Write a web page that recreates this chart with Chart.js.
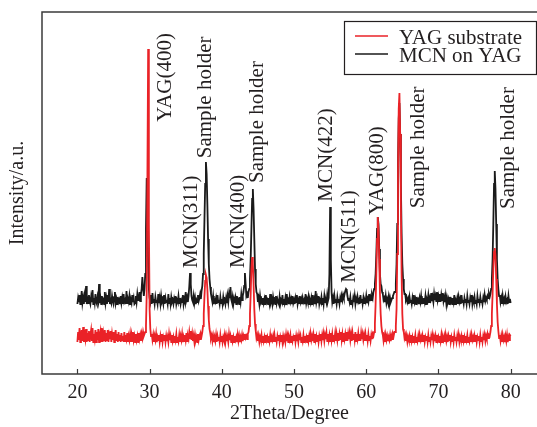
<!DOCTYPE html>
<html>
<head>
<meta charset="utf-8">
<script src="https://cdn.jsdelivr.net/npm/chart.js@4.4.1/dist/chart.umd.min.js"></script>
<style>
  html, body { margin: 0; padding: 0; background: #fff; overflow: hidden; }
  canvas { display: block; }
</style>
</head>
<body>
<canvas id="xrdChart" width="537" height="427"></canvas>
<script>
// XRD patterns, scan 20..80 deg, step 0.1 deg

const scanStart = 20;
const scanStep = 0.1;

const seriesNames = ['YAG substrate', 'MCN on YAG'];

// intensity (a.u.), one row = 2 deg
const yagSubstrate = [
    320, 420, 340, 460, 320, 380, 440, 330, 470, 320, 400, 350, 450, 320, 410, 340, 430, 320, 390, 440,
    330, 460, 320, 400, 350, 440, 320, 420, 340, 450, 320, 390, 430, 330, 460, 320, 400, 340, 440, 320,
    410, 330, 440, 320, 390, 350, 430, 320, 400, 340, 420, 320, 380, 440, 330, 400, 320, 420, 340, 390,
    320, 410, 340, 380, 320, 420, 330, 390, 350, 410, 320, 380, 340, 400, 320, 390, 330, 420, 340, 380,
    320, 400, 340, 380, 320, 410, 350, 390, 330, 400, 360, 420, 380, 400, 420, 480, 800, 2000, 3250, 1500,
    650, 450, 380, 400, 340, 390, 320, 380, 340, 400, 320, 370, 340, 390, 320, 380, 330, 400, 320, 370,
    340, 390, 320, 380, 330, 370, 320, 400, 340, 380, 320, 390, 330, 370, 320, 380, 340, 400, 320, 370,
    330, 390, 320, 380, 340, 400, 320, 370, 330, 390, 340, 410, 330, 380, 350, 420, 360, 430, 340, 400,
    330, 380, 320, 390, 340, 370, 320, 400, 340, 380, 350, 400, 380, 420, 480, 600, 780, 930, 990, 960,
    850, 680, 540, 450, 410, 360, 390, 330, 380, 320, 370, 330, 390, 320, 380, 340, 370, 320, 390, 330,
    380, 320, 370, 340, 390, 320, 380, 330, 370, 320, 400, 340, 380, 320, 390, 330, 370, 320, 380, 340,
    370, 320, 390, 330, 380, 320, 370, 340, 390, 330, 380, 350, 400, 360, 380, 350, 400, 420, 480, 600,
    800, 1050, 1170, 1100, 900, 650, 500, 430, 360, 390, 330, 380, 320, 370, 340, 390, 320, 380, 330, 370,
    320, 390, 340, 370, 320, 380, 330, 390, 320, 370, 340, 380, 320, 390, 330, 370, 320, 380, 340, 390,
    320, 370, 330, 390, 320, 380, 340, 370, 320, 390, 330, 380, 320, 370, 340, 390, 320, 380, 330, 370,
    340, 390, 320, 380, 330, 370, 320, 390, 340, 380, 320, 370, 330, 390, 320, 380, 340, 370, 320, 390,
    330, 380, 320, 400, 340, 380, 330, 390, 320, 400, 340, 380, 330, 390, 320, 380, 340, 400, 330, 390,
    340, 400, 330, 390, 350, 410, 330, 400, 340, 390, 330, 410, 340, 400, 330, 390, 350, 410, 330, 400,
    340, 410, 330, 400, 350, 420, 340, 400, 330, 410, 350, 400, 340, 420, 330, 400, 350, 410, 340, 400,
    330, 410, 350, 400, 340, 420, 330, 400, 350, 410, 340, 400, 330, 410, 350, 400, 340, 390, 330, 400,
    340, 390, 330, 400, 340, 380, 330, 390, 350, 400, 380, 420, 500, 700, 1000, 1350, 1570, 1450, 1150, 800,
    600, 480, 420, 390, 330, 380, 320, 390, 340, 380, 330, 370, 340, 390, 330, 380, 350, 400, 380, 420,
    420, 480, 650, 1200, 2000, 2650, 2810, 2400, 1700, 1000, 600, 450, 420, 360, 390, 330, 380, 320, 370, 340,
    380, 320, 390, 330, 370, 320, 380, 340, 390, 320, 370, 330, 380, 320, 390, 340, 370, 320, 380, 330,
    390, 320, 370, 340, 380, 320, 390, 330, 370, 320, 380, 340, 390, 320, 370, 330, 380, 320, 390, 340,
    370, 320, 380, 330, 390, 320, 370, 340, 380, 320, 390, 330, 370, 320, 380, 340, 390, 320, 370, 330,
    380, 320, 390, 340, 370, 320, 380, 330, 390, 320, 370, 340, 380, 320, 390, 330, 370, 320, 380, 340,
    390, 320, 370, 330, 380, 320, 390, 340, 370, 320, 380, 330, 390, 320, 370, 340, 380, 320, 390, 330,
    370, 320, 380, 340, 390, 330, 380, 350, 400, 360, 390, 380, 420, 480, 600, 800, 1050, 1220, 1260, 1180,
    950, 700, 520, 430, 360, 390, 330, 380, 320, 390, 340, 370, 320, 380, 330, 390, 320, 370, 340, 390,
    380
];

const mcnOnYag = [
    700, 760, 720, 790, 700, 740, 830, 710, 760, 700, 780, 720, 880, 700, 750, 710, 790, 730, 700, 770,
    720, 840, 700, 760, 710, 800, 720, 700, 770, 730, 900, 710, 760, 700, 780, 720, 740, 700, 820, 710,
    760, 700, 790, 720, 850, 700, 740, 710, 780, 730, 700, 760, 820, 710, 750, 700, 770, 720, 740, 700,
    780, 710, 760, 700, 800, 720, 740, 700, 830, 710, 750, 720, 780, 700, 740, 710, 790, 720, 760, 700,
    710, 780, 720, 800, 740, 760, 820, 730, 800, 850, 970, 860, 780, 850, 1000, 1450, 1960, 1600, 1100, 850,
    760, 720, 790, 700, 810, 720, 750, 700, 770, 720, 740, 700, 800, 710, 760, 700, 780, 720, 740, 700,
    790, 700, 760, 720, 740, 700, 800, 710, 760, 700, 770, 720, 740, 700, 750, 710, 780, 700, 740, 720,
    780, 710, 760, 700, 740, 720, 790, 700, 750, 720, 820, 740, 770, 720, 780, 880, 1010, 900, 780, 740,
    720, 780, 710, 760, 700, 740, 720, 790, 730, 760, 800, 750, 830, 880, 1000, 1200, 1550, 1900, 2120, 2000,
    1700, 1350, 1100, 950, 870, 800, 760, 720, 780, 700, 740, 720, 760, 700, 790, 720, 740, 700, 770, 710,
    750, 700, 770, 720, 740, 700, 760, 710, 780, 720, 800, 760, 870, 750, 720, 770, 700, 750, 710, 760,
    700, 780, 720, 740, 700, 770, 720, 800, 740, 780, 820, 880, 1010, 900, 780, 800, 760, 820, 850, 950,
    1150, 1450, 1750, 1850, 1650, 1350, 1050, 900, 820, 800, 720, 760, 700, 780, 720, 740, 700, 760, 710, 750,
    700, 790, 720, 740, 700, 760, 710, 800, 720, 750, 700, 770, 720, 740, 700, 780, 710, 750, 720, 700,
    770, 700, 740, 720, 790, 700, 750, 710, 760, 700, 800, 720, 740, 700, 770, 720, 750, 700, 780, 710,
    740, 700, 760, 720, 790, 700, 740, 710, 780, 720, 750, 700, 760, 720, 740, 700, 800, 710, 750, 720,
    770, 700, 740, 710, 760, 700, 790, 720, 750, 700, 830, 720, 760, 710, 780, 700, 740, 720, 770, 700,
    760, 700, 780, 720, 740, 710, 790, 730, 760, 1000, 1670, 1150, 820, 720, 760, 700, 780, 720, 750, 700,
    770, 720, 750, 700, 760, 720, 780, 740, 790, 760, 800, 830, 850, 840, 780, 740, 760, 720, 770, 700,
    740, 700, 760, 720, 780, 700, 750, 710, 770, 720, 740, 700, 790, 720, 750, 700, 760, 710, 740, 720,
    780, 710, 750, 720, 800, 730, 770, 740, 790, 760, 820, 850, 900, 1000, 1200, 1450, 1570, 1500, 1250, 1000,
    900, 880, 820, 800, 740, 760, 720, 780, 710, 750, 720, 770, 700, 760, 720, 740, 760, 780, 800, 820,
    820, 900, 1100, 1500, 2100, 2550, 2710, 2400, 1900, 1400, 1100, 950, 850, 800, 800, 740, 760, 720, 750, 700,
    770, 720, 740, 700, 760, 710, 790, 720, 750, 700, 770, 720, 740, 700, 760, 720, 780, 700, 740, 710,
    760, 720, 780, 700, 750, 730, 790, 720, 760, 740, 810, 730, 770, 720, 800, 740, 780, 730, 820, 740,
    780, 730, 800, 720, 790, 740, 810, 730, 770, 720, 780, 700, 760, 720, 750, 700, 770, 720, 740, 700,
    760, 720, 790, 700, 740, 720, 760, 700, 770, 720, 750, 700, 790, 720, 740, 700, 760, 720, 750, 700,
    780, 720, 740, 700, 760, 720, 790, 700, 750, 720, 770, 710, 740, 700, 780, 720, 750, 710, 770, 720,
    740, 700, 760, 720, 790, 730, 760, 740, 780, 760, 800, 770, 800, 850, 950, 1150, 1500, 1900, 2030, 1850,
    1500, 1150, 950, 850, 780, 790, 720, 760, 700, 780, 720, 750, 700, 770, 720, 740, 700, 780, 720, 750,
    710
];

const xTickValues = [20, 30, 40, 50, 60, 70, 80];

// peak labels: text, 2theta of label centre, intensity at label start
const peakLabels = ['YAG(400)', 'Sample holder', 'MCN(311)', 'Sample holder', 'MCN(400)',
    'MCN(422)', 'MCN(511)', 'YAG(800)', 'Sample holder', 'Sample holder'];
const peakLabelTheta = [32.2, 37.68, 35.81, 44.88, 42.32, 54.5, 57.62, 61.56, 67.27, 79.7];
const peakLabelBase = [2523, 2157, 1060, 1910, 1060, 1723, 913, 1590, 1657, 1650];

const SERIF = '"Liberation Serif", "DejaVu Serif", "Times New Roman", serif';
const TEXT_COLOR = '#231f20';

function toPoints(values) {
    return values.map((v, i) => ({ x: +(scanStart + i * scanStep).toFixed(1), y: v }));
}

// frame, inward ticks, peak labels and boxed legend
const xrdDecor = {
    id: 'xrdDecor',
    beforeDatasetsDraw(chart) {
        const { ctx, chartArea: a, scales } = chart;
        ctx.save();
        ctx.strokeStyle = '#3b3b3b';
        ctx.lineWidth = 1.5;
        ctx.beginPath();
        ctx.moveTo(chart.width, a.top);
        ctx.lineTo(a.left, a.top);
        ctx.lineTo(a.left, a.bottom);
        ctx.lineTo(chart.width, a.bottom);
        ctx.stroke();
        ctx.lineWidth = 1.2;
        xTickValues.forEach(v => {
            const px = Math.round(scales.x.getPixelForValue(v)) + 0.5;
            ctx.beginPath();
            ctx.moveTo(px, a.bottom);
            ctx.lineTo(px, a.bottom - 5);
            ctx.stroke();
        });
        ctx.restore();
    },
    afterDatasetsDraw(chart) {
        const { ctx, scales } = chart;
        ctx.save();
        ctx.fillStyle = TEXT_COLOR;
        ctx.font = '21px ' + SERIF;
        ctx.textAlign = 'left';
        ctx.textBaseline = 'middle';
        peakLabels.forEach((txt, i) => {
            const px = scales.x.getPixelForValue(peakLabelTheta[i]);
            const py = scales.y.getPixelForValue(peakLabelBase[i]);
            ctx.save();
            ctx.translate(px, py);
            ctx.rotate(-Math.PI / 2);
            ctx.fillText(txt, 0, 0);
            ctx.restore();
        });

        // legend box
        const bx = 344, by = 21, bw = 192, bh = 53;
        ctx.fillStyle = '#fff';
        ctx.fillRect(bx, by, bw, bh);
        ctx.strokeStyle = '#231f20';
        ctx.lineWidth = 1.2;
        ctx.strokeRect(bx + 0.5, by + 0.5, bw, bh);
        chart.data.datasets.forEach((ds, i) => {
            const ly = by + 15 + i * 18;
            ctx.strokeStyle = ds.borderColor;
            ctx.lineWidth = 1.5;
            ctx.beginPath();
            ctx.moveTo(bx + 11, ly);
            ctx.lineTo(bx + 44, ly);
            ctx.stroke();
            ctx.fillStyle = TEXT_COLOR;
            ctx.textBaseline = 'alphabetic';
            ctx.fillText(ds.label, bx + 55, ly + 8);
        });
        ctx.restore();
    }
};

new Chart(document.getElementById('xrdChart'), {
    type: 'line',
    data: {
        datasets: [{
            label: seriesNames[0],
            data: toPoints(yagSubstrate),
            borderColor: '#ea2227',
            borderWidth: 1.8,
            pointRadius: 0,
            tension: 0,
        }, {
            label: seriesNames[1],
            data: toPoints(mcnOnYag),
            borderColor: '#1a1a1a',
            borderWidth: 1.8,
            pointRadius: 0,
            tension: 0,
        }]
    },
    options: {
        responsive: false,
        animation: false,
        devicePixelRatio: 1,
        layout: { padding: { top: 12, right: 0, bottom: 0, left: 0 } },
        plugins: {
            legend: { display: false },
            tooltip: { enabled: false },
        },
        scales: {
            x: {
                type: 'linear',
                min: 15.1,
                max: 83.65,
                afterBuildTicks: s => { s.ticks = xTickValues.map(v => ({ value: v })); },
                afterFit: s => { s.height = 53; },
                grid: { display: false, drawTicks: false },
                border: { display: false },
                ticks: {
                    color: TEXT_COLOR,
                    font: { size: 20, family: SERIF },
                    padding: 7,
                    maxRotation: 0,
                    autoSkip: false,
                },
                title: {
                    display: true,
                    text: '2Theta/Degree',
                    color: TEXT_COLOR,
                    font: { size: 20, family: SERIF },
                    padding: { top: 0, bottom: 1 },
                }
            },
            y: {
                min: 0,
                max: 3620,
                afterFit: s => { s.width = 42; },
                grid: { display: false, drawTicks: false },
                border: { display: false },
                ticks: { display: false },
                title: {
                    display: true,
                    text: 'Intensity/a.u.',
                    color: TEXT_COLOR,
                    font: { size: 20, family: SERIF },
                    padding: { top: 6, bottom: 0 },
                }
            }
        }
    },
    plugins: [xrdDecor]
});
</script>
</body>
</html>
